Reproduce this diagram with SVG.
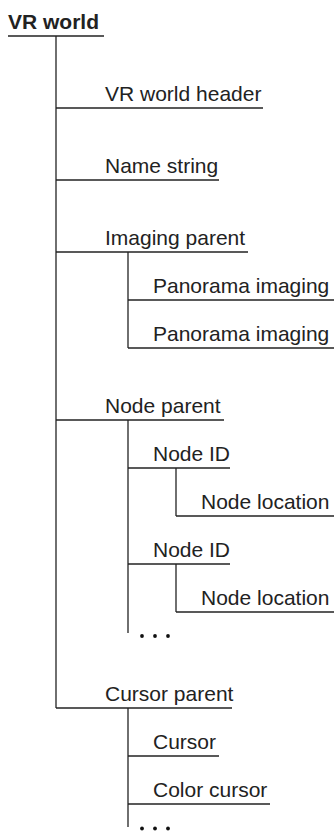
<svg xmlns="http://www.w3.org/2000/svg" width="334" height="832" viewBox="0 0 334 832">
<style>
text{font-family:"Liberation Sans",Arial,sans-serif;font-size:21px;fill:#222}
.b{font-weight:bold}
line{stroke:#222;stroke-width:1.3}
circle{fill:#111}
</style>
<rect width="334" height="832" fill="#fff"/>
<g id="connectors">
<line x1="56" y1="36" x2="56" y2="708"/>
<line x1="128" y1="252" x2="128" y2="348"/>
<line x1="128" y1="420" x2="128" y2="633"/>
<line x1="176" y1="468" x2="176" y2="516"/>
<line x1="176" y1="564" x2="176" y2="612"/>
<line x1="128" y1="708" x2="128" y2="827"/>
</g>
<g id="vr-world"><text class="b" x="8" y="28.5">VR world</text><line x1="8" y1="36" x2="104" y2="36"/></g>
<g id="vr-world-header"><text x="105" y="101">VR world header</text><line x1="56" y1="108" x2="263" y2="108"/></g>
<g id="name-string"><text x="105" y="173">Name string</text><line x1="56" y1="180" x2="219" y2="180"/></g>
<g id="imaging-parent"><text x="105" y="245">Imaging parent</text><line x1="56" y1="252" x2="248" y2="252"/></g>
<g id="panorama-imaging-1"><text x="153" y="293">Panorama imaging</text><line x1="128" y1="300" x2="334" y2="300"/></g>
<g id="panorama-imaging-2"><text x="153" y="341">Panorama imaging</text><line x1="128" y1="348" x2="334" y2="348"/></g>
<g id="node-parent"><text x="105" y="413">Node parent</text><line x1="56" y1="420" x2="224" y2="420"/></g>
<g id="node-id-1"><text x="153" y="461">Node ID</text><line x1="128" y1="468" x2="230" y2="468"/></g>
<g id="node-location-1"><text x="201" y="509">Node location</text><line x1="176" y1="516" x2="334" y2="516"/></g>
<g id="node-id-2"><text x="153" y="557">Node ID</text><line x1="128" y1="564" x2="230" y2="564"/></g>
<g id="node-location-2"><text x="201" y="605">Node location</text><line x1="176" y1="612" x2="334" y2="612"/></g>
<g id="node-more"><circle cx="142" cy="636" r="1.9"/><circle cx="155" cy="636" r="1.9"/><circle cx="168" cy="636" r="1.9"/></g>
<g id="cursor-parent"><text x="105" y="701">Cursor parent</text><line x1="56" y1="708" x2="232" y2="708"/></g>
<g id="cursor"><text x="153" y="749">Cursor</text><line x1="128" y1="756" x2="219" y2="756"/></g>
<g id="color-cursor"><text x="153" y="797">Color cursor</text><line x1="128" y1="804" x2="270" y2="804"/></g>
<g id="cursor-more"><circle cx="142" cy="828.5" r="1.9"/><circle cx="155" cy="828.5" r="1.9"/><circle cx="168" cy="828.5" r="1.9"/></g>
</svg>
